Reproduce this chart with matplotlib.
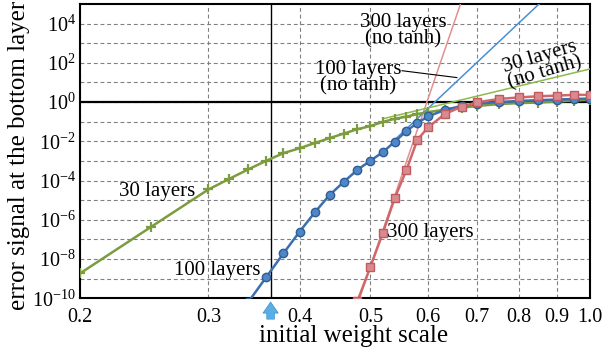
import numpy as np
import matplotlib
matplotlib.use("Agg")
import matplotlib.pyplot as plt
from matplotlib.ticker import FixedLocator, NullLocator, NullFormatter

plt.rcParams['font.family'] = ['Liberation Serif', 'DejaVu Serif']
plt.rcParams['mathtext.fontset'] = 'custom'
plt.rcParams['mathtext.rm'] = 'Liberation Serif'

# initial weight scale for each run
x30 = [0.2, 0.25, 0.3, 0.32, 0.34, 0.36, 0.38, 0.40, 0.42, 0.44, 0.46, 0.48, 0.50,
       0.52, 0.54, 0.56, 0.58, 0.60, 0.633, 0.667, 0.70, 0.75, 0.80, 0.85, 0.90, 0.95, 1.0]
x100 = [0.34, 0.36, 0.38, 0.40, 0.42, 0.44, 0.46, 0.48, 0.50, 0.52, 0.54, 0.56, 0.58,
        0.60, 0.633, 0.667, 0.70, 0.75, 0.80, 0.85, 0.90, 0.95, 1.0]
x300 = [0.48, 0.50, 0.52, 0.54, 0.56, 0.58, 0.60, 0.633, 0.667, 0.70, 0.75, 0.80,
        0.85, 0.90, 0.95, 1.0]

# error signal at the bottom layer, as log10
log_err30 = [-8.73, -6.37, -4.45, -3.92, -3.43, -2.99, -2.60, -2.35, -2.08, -1.83, -1.60,
             -1.38, -1.22, -1.01, -0.85, -0.74, -0.61, -0.51, -0.38, -0.28, -0.20, -0.10,
             -0.05, -0.02, 0.03, 0.08, 0.12]
log_err100 = [-10.2, -8.92, -7.71, -6.60, -5.60, -4.72, -4.06, -3.45, -2.99, -2.55, -2.02,
              -1.48, -1.06, -0.73, -0.39, -0.20, -0.08, 0.0, 0.06, 0.10, 0.13, 0.16, 0.18]
log_err300 = [-10.15, -8.40, -6.67, -4.89, -3.48, -1.92, -1.28, -0.60, -0.23, -0.01,
              0.16, 0.24, 0.30, 0.33, 0.37, 0.37]

# linear nets (no tanh): straight lines on log-log axes, given by two end points
lin30_x, lin30_log = [0.52, 1.0], [-0.85, 1.69]
lin100_x, lin100_log = [0.54, 0.88], [-1.92, 5.50]
lin300_x, lin300_log = [0.48, 0.68], [-10.32, 6.08]

x_ticks = [0.2, 0.3, 0.4, 0.5, 0.6, 0.7, 0.8, 0.9, 1.0]
x_labels = ['0.2', '0.3', '0.4', '0.5', '0.6', '0.7', '0.8', '0.9', '1.0']
y_exps = [-10, -8, -6, -4, -2, 0, 2, 4]
arrow_x = 0.365

green = '#7c9c3f'
blue = '#3b6fae'
red = '#d0686a'

fig = plt.figure(figsize=(6.05, 3.51), dpi=100)
ax = fig.add_axes([0.1322, 0.150, 0.843, 0.8386])

ax.set_xscale('log')
ax.set_yscale('log')

# grid first so everything sits on top of it
grid_kw = dict(color='#808080', lw=0.8, ls=(0, (3.5, 2.5)))
ax.set_xticks(x_ticks)
ax.set_xticklabels(x_labels)
ax.xaxis.set_minor_locator(NullLocator())
ax.set_yticks([10.0 ** e for e in y_exps])
ax.set_yticklabels([r'$\mathdefault{10^{%d}}$' % e for e in y_exps])
ax.yaxis.set_minor_locator(FixedLocator([10.0 ** e for e in range(-9, 5, 2)]))
ax.yaxis.set_minor_formatter(NullFormatter())
ax.grid(True, which='both', **grid_kw)
ax.set_axisbelow(True)
ax.tick_params(which='both', length=0, labelsize=14.5)
ax.tick_params(axis='x', pad=7)
ax.tick_params(axis='y', pad=3)

ax.axhline(1.0, color='black', lw=1.6, zorder=2)
ax.axvline(arrow_x, color='black', lw=1.0, zorder=2)

# linear networks
ax.plot(lin300_x, 10.0 ** np.array(lin300_log), color='#e29090', lw=1.1, zorder=3)
ax.plot(lin100_x, 10.0 ** np.array(lin100_log), color='#4a8fd6', lw=1.1, zorder=3)
ax.plot(lin30_x, 10.0 ** np.array(lin30_log), color='#8cba4c', lw=1.1, zorder=3)

# tanh networks
ax.plot(x30, 10.0 ** np.array(log_err30), color=green, lw=1.8, marker='+',
        ms=7, mew=1.6, zorder=4)
ax.plot(x100, 10.0 ** np.array(log_err100), color=blue, lw=1.8, marker='o',
        ms=6, mfc='#4f86c6', mec='#2f5d96', mew=1.0, zorder=5)
ax.plot(x300, 10.0 ** np.array(log_err300), color=red, lw=1.8, marker='s',
        ms=6, mfc='#d98a8e', mec='#c05a5e', mew=1.0, zorder=6)

ax.set_xlim(0.2, 1.0)
ax.set_ylim(1e-10, 1e5)

for s in ax.spines.values():
    s.set_linewidth(1.5)

lab = dict(fontsize=15, ha='center', va='center', zorder=7)
ax.text(0.255, 10 ** -4.55, '30 layers', **lab)
ax.text(0.308, 10 ** -8.57, '100 layers', **lab)
ax.text(0.527, 10 ** -6.63, '300 layers', fontsize=15, ha='left', va='center', zorder=7)
ax.text(0.554, 10 ** 3.64, '300 layers\n(no tanh)', linespacing=0.8, **lab)
ax.text(0.481, 10 ** 1.245, '100 layers\n(no tanh)', linespacing=0.8, **lab)
ax.text(0.86, 10 ** 1.9, '30 layers\n(no tanh)', linespacing=0.8, rotation=16.5, **lab)
ax.plot([0.5526, 0.657], [10 ** 1.60, 10 ** 1.25], color='black', lw=0.8, zorder=7)

# arrow marking the chosen scale
ax.annotate('', xy=(arrow_x, -0.003), xytext=(arrow_x, -0.08),
            xycoords=('data', 'axes fraction'), textcoords=('data', 'axes fraction'),
            arrowprops=dict(arrowstyle='simple,head_width=1.1,head_length=0.8,tail_width=0.55',
                            fc='#5aaee6', ec='#3d8fcc', lw=0.5),
            annotation_clip=False)

ax.set_xlabel('initial weight scale', fontsize=18)
ax.xaxis.set_label_coords(0.537, -0.092)
ax.set_ylabel('error signal at the bottom layer', fontsize=18)
ax.yaxis.set_label_coords(-0.098, 0.487)

fig.savefig('out.png', dpi=100)
